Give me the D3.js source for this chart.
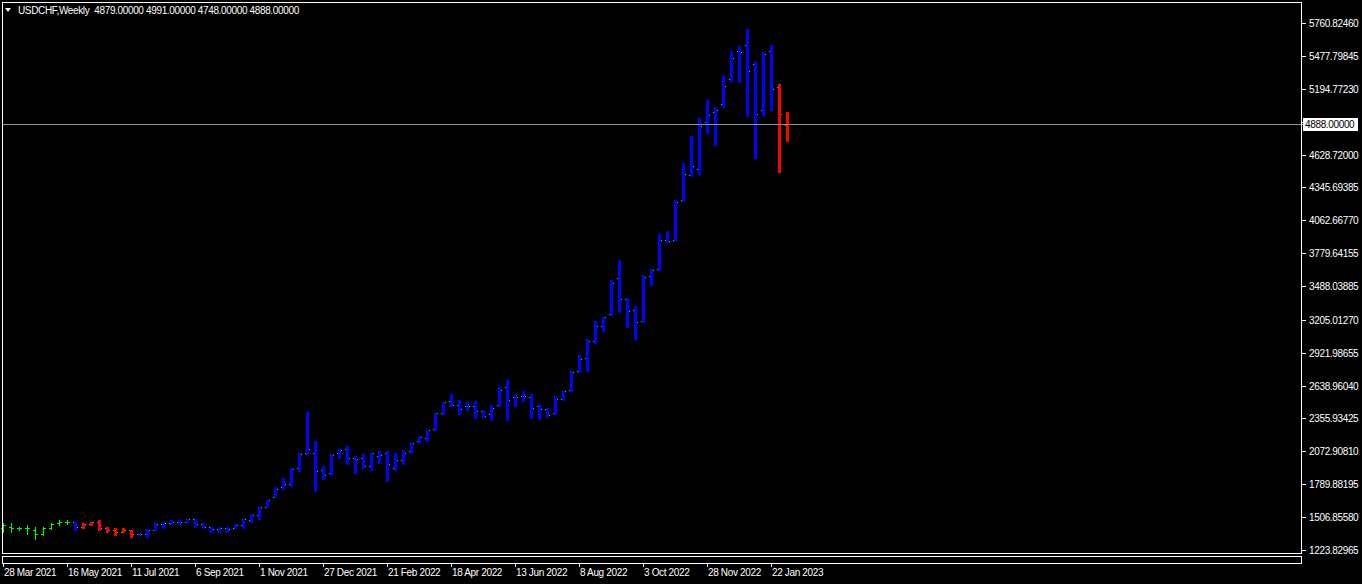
<!DOCTYPE html>
<html>
<head>
<meta charset="utf-8">
<script src="https://cdn.jsdelivr.net/npm/d3@7/dist/d3.min.js"></script>
<style>
  html, body { margin: 0; padding: 0; background: #000; }
  svg { display: block; }
  text { font-family: "Liberation Sans", Arial, sans-serif; font-size: 10px; fill: #fff; letter-spacing: -0.35px; }
</style>
</head>
<body>
<svg id="chart" width="1362" height="584"></svg>
<script>
// ---- data (weekly OHLC, USDCHF as shown) ----
const symbolTitle = "USDCHF,Weekly";
const opens  = [1409,1426,1409,1412,1392,1358,1409,1452,1461,1465,1418,1444,1469,1409,1392,1383,1392,1358,1358,1392,
                1444,1452,1469,1461,1487,1444,1418,1401,1409,1409,1435,1478,1521,1598,1684,1762,1788,1926,2055,2063,
                1909,1883,2055,2097,2012,2012,1951,2029,2055,1926,1995,2072,2166,2192,2267,2407,2510,2476,2467,2467,
                2424,2398,2476,2630,2544,2553,2544,2467,2441,2407,2527,2605,2768,2880,3026,3155,3258,3568,3387,3293,
                3198,3585,3645,3895,3895,4239,4454,4505,4909,4995,5064,5279,5520,5572,5406,5011,5520,5210,4879];
const highs  = [1452,1452,1426,1435,1426,1418,1452,1478,1478,1469,1452,1469,1478,1426,1409,1409,1392,1366,1401,1452,
                1461,1478,1478,1495,1487,1452,1426,1418,1418,1444,1495,1530,1598,1650,1770,1840,1926,2063,2416,2158,
                1951,2046,2097,2115,2029,2046,2063,2072,2072,2055,2081,2149,2208,2259,2407,2501,2570,2519,2501,2510,
                2433,2476,2630,2691,2562,2596,2570,2484,2450,2553,2596,2768,2906,3043,3198,3232,3551,3723,3396,3327,
                3594,3645,3946,3972,4239,4557,4789,4944,5099,5038,5305,5520,5563,5709,5423,5511,5572,5236,4991];
const lows   = [1383,1375,1392,1358,1315,1349,1401,1435,1444,1392,1409,1435,1392,1375,1349,1375,1340,1349,1340,1392,
                1409,1444,1444,1461,1426,1409,1375,1383,1375,1409,1409,1469,1495,1590,1676,1745,1779,1900,2046,1728,
                1831,1866,2020,1960,1883,1934,1909,1969,1822,1909,1960,2063,2149,2166,2259,2398,2467,2398,2433,2364,
                2372,2347,2467,2347,2467,2510,2364,2355,2372,2398,2519,2596,2759,2768,3009,3112,3249,3275,3146,3043,
                3189,3508,3637,3877,3886,4230,4445,4462,4815,4712,5038,5262,5253,4961,4600,4968,5011,4479,4748];
const closes = [1435,1409,1412,1409,1358,1409,1444,1461,1465,1418,1444,1461,1409,1392,1375,1392,1358,1360,1392,1444,
                1452,1469,1461,1487,1444,1418,1401,1409,1401,1435,1487,1521,1590,1650,1745,1788,1917,2046,2090,1900,
                1866,2038,2081,2020,2003,1951,2063,2038,1960,1995,2063,2149,2200,2259,2407,2501,2476,2441,2467,2424,
                2381,2450,2605,2519,2544,2553,2450,2441,2390,2527,2596,2759,2871,3026,3155,3232,3525,3387,3284,3189,
                3576,3637,3895,3886,4221,4462,4531,4875,4970,5013,5219,5460,5511,5348,4977,5494,5193,4977,4888];
// body colour class per bar: g = plain bar only, b = blue (up) body, r = red (down) body
const bodyKind = ["g","g","g","g","g","g","g","g","g","b","r","r","r","r","r","r","r","b","b","b",
                  "b","b","b","b","b","b","b","b","b","b","b","b","b","b","b","b","b","b","b","b",
                  "b","b","b","b","b","b","b","b","b","b","b","b","b","b","b","b","b","b","b","b",
                  "b","b","b","b","b","b","b","b","b","b","b","b","b","b","b","b","b","b","b","b",
                  "b","b","b","b","b","b","b","b","b","b","b","b","b","b","b","b","b","r","r"];
const xTickIndex  = [0,8,16,24,32,40,48,56,64,72,80,88,96];
const xTickLabels = ["28 Mar 2021","16 May 2021","11 Jul 2021","6 Sep 2021","1 Nov 2021","27 Dec 2021",
                     "21 Feb 2022","18 Apr 2022","13 Jun 2022","8 Aug 2022","3 Oct 2022","28 Nov 2022","22 Jan 2023"];
const yTickValues = [5760.82460,5477.79845,5194.77230,4911.74615,4628.72000,4345.69385,4062.66770,3779.64155,
                     3496.61540,3205.01270,2921.98655,2638.96040,2355.93425,2072.90810,1789.88195,1506.85580,1223.82965];
const yTickLabels = ["5760.82460","5477.79845","5194.77230","4911.74615","4628.72000","4345.69385","4062.66770","3779.64155",
                     "3488.03885","3205.01270","2921.98655","2638.96040","2355.93425","2072.90810","1789.88195","1506.85580","1223.82965"];
const lastPrice = 4888;
const fmt5 = v => v.toFixed(5);

// ---- layout ----
const svg = d3.select("#chart");
const W = 1362, H = 584;
const plotL = 2, plotR = 1301, plotT = 2, plotB = 553;
const N = opens.length;

const x = d3.scaleLinear().domain([0, N - 1]).range([3, 3 + 8 * (N - 1)]);
const y = d3.scaleLinear().domain([1223.82965, 5760.82460]).rangeRound([550, 23]);

svg.append("rect").attr("width", W).attr("height", H).attr("fill", "#000");

const bars = d3.range(N).map(i => ({i, o: opens[i], h: highs[i], l: lows[i], c: closes[i], k: bodyKind[i]}));

const gBars = svg.append("g").attr("shape-rendering", "crispEdges");
const lime = "#00ff00";
// underlying bar chart (lime)
gBars.selectAll(".hl").data(bars).join("rect")
  .attr("x", d => x(d.i)).attr("width", 1)
  .attr("y", d => y(d.h)).attr("height", d => y(d.l) - y(d.h) + 1)
  .attr("fill", lime);
gBars.selectAll(".op").data(bars).join("rect")
  .attr("x", d => x(d.i) - 2).attr("width", 2)
  .attr("y", d => y(d.o)).attr("height", 1).attr("fill", lime);
gBars.selectAll(".cl").data(bars).join("rect")
  .attr("x", d => x(d.i) + 1).attr("width", 2)
  .attr("y", d => y(d.c)).attr("height", 1).attr("fill", lime);
// coloured bodies
gBars.selectAll(".body").data(bars.filter(d => d.k !== "g")).join("rect")
  .attr("x", d => x(d.i) - 1).attr("width", 3)
  .attr("y", d => y(d.h)).attr("height", d => y(d.l) - y(d.h) + 1)
  .attr("fill", d => d.k === "r" ? "#ff0000" : "#0000ff");

// current price line
const yl = y(lastPrice) + 0.5;
svg.append("line").attr("x1", plotL).attr("x2", 1304).attr("y1", yl).attr("y2", yl)
  .attr("stroke", "#8a949e").attr("stroke-width", 1);

// frames
svg.append("rect").attr("x", plotL + 0.5).attr("y", plotT + 0.5)
  .attr("width", plotR - plotL).attr("height", plotB - plotT)
  .attr("fill", "none").attr("stroke", "#fff").attr("shape-rendering", "crispEdges");
svg.append("rect").attr("x", plotL + 0.5).attr("y", 556.5)
  .attr("width", plotR - plotL).attr("height", 7)
  .attr("fill", "none").attr("stroke", "#fff").attr("shape-rendering", "crispEdges");

// y axis
const yAxis = d3.axisRight(y).tickValues(yTickValues)
  .tickFormat((d, i) => yTickLabels[i]).tickSize(4).tickPadding(3);
const gy = svg.append("g").attr("transform", `translate(${plotR + 1},0)`).call(yAxis);
gy.select(".domain").remove();
gy.selectAll(".tick line").attr("stroke", "#fff").attr("shape-rendering", "crispEdges");
gy.selectAll(".tick text").attr("fill", "#fff").attr("font-family", null).attr("font-size", null);

// current price box
svg.append("rect").attr("x", 1303).attr("y", yl - 6.5).attr("width", 55).attr("height", 13).attr("fill", "#fff");
svg.append("text").attr("x", 1305).attr("y", yl + 3.5).style("fill", "#000").text(fmt5(lastPrice));

// x axis
const xAxis = d3.axisBottom(x).tickValues(xTickIndex)
  .tickFormat((d, i) => xTickLabels[i]).tickSize(4).tickPadding(2);
const gx = svg.append("g").attr("transform", `translate(0,563)`).call(xAxis);
gx.select(".domain").remove();
gx.selectAll(".tick line").attr("stroke", "#fff").attr("shape-rendering", "crispEdges");
gx.selectAll(".tick text").attr("fill", "#fff").attr("font-family", null).attr("font-size", null)
  .attr("text-anchor", "start").attr("dx", "0.5");

// header
svg.append("path").attr("d", "M5,8 L11,8 L8,12 Z").attr("fill", "#fff");
const last = N - 1;
svg.append("text").attr("x", 18).attr("y", 14).attr("xml:space", "preserve")
  .text(`${symbolTitle}  ${fmt5(opens[last])} ${fmt5(highs[last])} ${fmt5(lows[last])} ${fmt5(closes[last])}`);
</script>
</body>
</html>
